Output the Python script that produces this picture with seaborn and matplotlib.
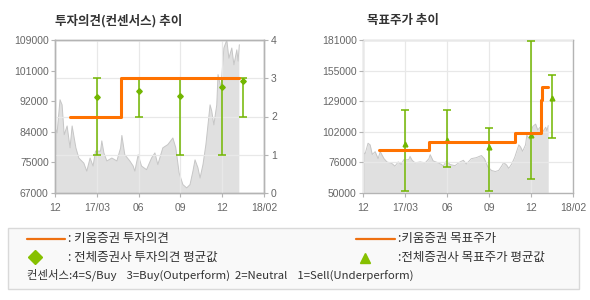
import matplotlib
matplotlib.use("Agg")
import matplotlib.pyplot as plt
import seaborn as sns
import numpy as np
import pandas as pd
from matplotlib.lines import Line2D
from matplotlib.patches import Rectangle

sns.set_theme(style="white")
plt.rcParams['font.family'] = ['Liberation Sans', 'Noto Sans CJK KR', 'DejaVu Sans']
KR = ['Noto Sans CJK KR', 'DejaVu Sans']

# ---------------- data ----------------
x_tick_labels = ['12', '17/03', '06', '09', '12', '18/02']

price_t = [0.00, 0.05, 0.12, 0.17, 0.22, 0.29, 0.36, 0.41, 0.50, 0.57, 0.69, 0.76,
           0.84, 0.91, 0.97, 1.09, 1.12, 1.17, 1.24, 1.36, 1.48, 1.57, 1.60, 1.67,
           1.79, 1.87, 1.91, 1.99, 2.07, 2.19, 2.31, 2.39, 2.46, 2.58, 2.70, 2.82,
           2.89, 2.97, 3.06, 3.15, 3.23, 3.30, 3.35, 3.42, 3.47, 3.54, 3.61, 3.66,
           3.71, 3.75, 3.80, 3.87, 3.90, 3.97, 4.04, 4.11, 4.16, 4.23, 4.28, 4.35,
           4.38, 4.41]
price = [85000, 83500, 92600, 91200, 83000, 85400, 79400, 85400, 79400, 76600, 75200, 73000,
         76600, 74400, 78500, 78500, 81300, 78000, 75800, 76600, 75800, 79400, 82800, 77500,
         75800, 74400, 73000, 77500, 74400, 73400, 76600, 78000, 74800, 79400, 80300, 82100,
         79400, 72500, 69300, 68400, 69300, 73000, 76100, 73900, 71100, 74800, 80300, 85700,
         91200, 89500, 85700, 91200, 99500, 95800, 106800, 109000, 104000, 106800, 102200, 106300,
         103200, 107700]

opinion_t = [0.36, 1.58, 4.40]
opinion = [2, 3, 3]

cons_t = [1, 2, 3, 4, 4.5]
cons_mean = [2.52, 2.67, 2.53, 2.78, 2.92]
cons_low = [1, 2, 1, 1, 2]
cons_high = [3, 3, 3, 3, 3]

target_t = [0.38, 1.58, 3.61, 4.23, 4.27, 4.41]
target = [87000, 94000, 101000, 130000, 141000, 141000]

tp_t = [1, 2, 3, 4, 4.5]
tp_mean = [91800, 95000, 89500, 99800, 131000]
tp_low = [51500, 72200, 51500, 61700, 96700]
tp_high = [121400, 121400, 106000, 180300, 151300]

left_labels = ['67000', '75000', '84000', '92000', '101000', '109000']
right_labels = ['50000', '76000', '102000', '129000', '155000', '181000']
opinion_ticks = [0, 1, 2, 3, 4]

# ---------------- style ----------------
ORANGE = '#ff7200'
GREEN = '#72b600'
SPINE = '#b4b4b4'
GRID = '#e8e8e8'
TXT = '#666666'

fig = plt.figure(figsize=(5.9, 3.0), dpi=100)
fig.patch.set_facecolor('white')

def style_axes(ax):
    for s in ax.spines.values():
        s.set_color(SPINE)
        s.set_linewidth(1.0)
    ax.tick_params(axis='both', colors=SPINE, labelcolor=TXT, labelsize=7.5,
                   length=3, width=0.8)
    ax.tick_params(axis='x', pad=4)
    ax.tick_params(axis='y', pad=1.5)
    ax.set_xlabel('')
    ax.set_ylabel('')

df_price = pd.DataFrame({'t': price_t, 'price': price})

# ---------- left chart ----------
ax1 = fig.add_axes([55/590, 107/300, 209/590, 153/300])
ax1.fill_between(df_price['t'], df_price['price'], 0, color='#e0e0e0', lw=0, zorder=1)
sns.lineplot(data=df_price, x='t', y='price', ax=ax1, color='#c6c6c6', lw=0.7, zorder=1.2)
ax1.set_xlim(0, 5)
ax1.set_ylim(67000, 109000)
ax1.set_xticks(range(6))
ax1.set_xticklabels(x_tick_labels)
ax1.set_yticks(np.linspace(67000, 109000, 6))
ax1.set_yticklabels(left_labels)
ax1.set_axisbelow(False)
ax1.grid(axis='x', color=GRID, lw=0.9, zorder=1.5)
style_axes(ax1)
ax1.tick_params(axis='x', bottom=True)
ax1.tick_params(axis='y', left=True)

ax2 = ax1.twinx()
ax2.set_ylim(0, 4)
ax2.set_yticks(opinion_ticks)
ax2.set_yticklabels([str(v) for v in opinion_ticks])
ax2.grid(axis='y', color=GRID, lw=0.9)
ax2.set_axisbelow(True)
ax2.errorbar(cons_t, cons_mean,
             yerr=[np.array(cons_mean) - np.array(cons_low), np.array(cons_high) - np.array(cons_mean)],
             fmt='D', ms=2.8, color=GREEN, ecolor=GREEN, elinewidth=1.1, capsize=2.9,
             capthick=1.1, zorder=3)
sns.lineplot(x=opinion_t, y=opinion, ax=ax2, color=ORANGE, lw=2.2, drawstyle='steps-post',
             zorder=4)
style_axes(ax2)
ax2.tick_params(axis='y', right=True, pad=2)
ax1.set_xlim(0, 5)

# ---------- right chart ----------
ax3 = fig.add_axes([363/590, 107/300, 210/590, 153/300])
ax3.fill_between(df_price['t'], df_price['price'], 0, color='#e0e0e0', lw=0, zorder=1)
sns.lineplot(data=df_price, x='t', y='price', ax=ax3, color='#c6c6c6', lw=0.7, zorder=1.2)
ax3.set_xlim(0, 5)
ax3.set_ylim(50000, 181000)
ax3.set_xticks(range(6))
ax3.set_xticklabels(x_tick_labels)
ax3.set_yticks(np.linspace(50000, 181000, 6))
ax3.set_yticklabels(right_labels)
ax3.set_axisbelow(False)
ax3.grid(True, color=GRID, lw=0.9)
ax3.errorbar(tp_t, tp_mean,
             yerr=[np.array(tp_mean) - np.array(tp_low), np.array(tp_high) - np.array(tp_mean)],
             fmt='^', ms=3.4, color=GREEN, ecolor=GREEN, elinewidth=1.1, capsize=2.9,
             capthick=1.1, zorder=3)
sns.lineplot(x=target_t, y=target, ax=ax3, color=ORANGE, lw=2.2, drawstyle='steps-post',
             zorder=4)
style_axes(ax3)
ax3.tick_params(axis='x', bottom=True)
ax3.tick_params(axis='y', left=True)

# ---------- titles ----------
fig.text(55/590, 1 - 20.7/300, '투자의견(컨센서스) 추이', fontsize=9, fontweight='bold',
         family=KR, va='center', ha='left', color='#333333')
fig.text(367/590, 1 - 20.7/300, '목표주가 추이', fontsize=9, fontweight='bold',
         family=KR, va='center', ha='left', color='#333333')

# ---------- legend box ----------
fig.add_artist(Rectangle((8/590, 1 - 288.7/300), (579.3 - 8)/590, 60.7/300,
                         transform=fig.transFigure, facecolor='#f9f9f9',
                         edgecolor='#d9d9d9', lw=1.0))

def fy(py):
    return 1 - py/300

fig.add_artist(Line2D([26.7/590, 65/590], [fy(238.7)]*2, transform=fig.transFigure,
                      color='#ee7010', lw=1.6))
fig.add_artist(Line2D([35/590], [fy(257)], transform=fig.transFigure, marker='D',
                      ms=7, color='#86c000', lw=0))
fig.add_artist(Line2D([356/590, 395/590], [fy(238.7)]*2, transform=fig.transFigure,
                      color='#ee7010', lw=1.6))
fig.add_artist(Line2D([365/590], [fy(258)], transform=fig.transFigure, marker='^',
                      ms=7, color='#86c000', lw=0))

LEG_COL = '#333333'
fig.text(68.3/590, fy(238.7), ': 키움증권 투자의견', fontsize=9, family=KR, va='center', color=LEG_COL)
fig.text(68.3/590, fy(257), ': 전체증권사 투자의견 평균값', fontsize=9, family=KR, va='center', color=LEG_COL)
fig.text(398.3/590, fy(238.7), ':키움증권 목표주가', fontsize=9, family=KR, va='center', color=LEG_COL)
fig.text(398.3/590, fy(257), ':전체증권사 목표주가 평균값', fontsize=9, family=KR, va='center', color=LEG_COL)
fig.text(26.7/590, fy(275), '컨센서스:4=S/Buy    3=Buy(Outperform)  2=Neutral    1=Sell(Underperform)',
         fontsize=8.2, family=KR, va='center', color=LEG_COL)

fig.savefig('out.png', dpi=100, facecolor='white')
